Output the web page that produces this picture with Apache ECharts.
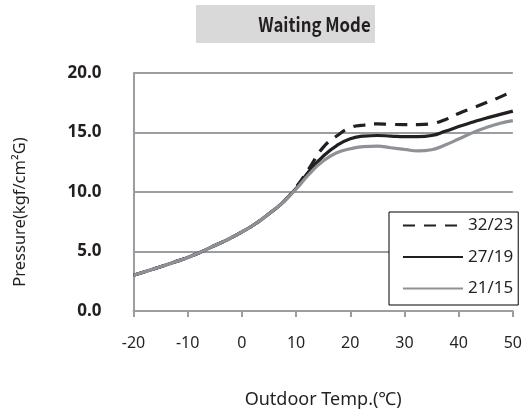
<!DOCTYPE html>
<html>
<head>
<meta charset="utf-8">
<script src="https://cdn.jsdelivr.net/npm/echarts@6/dist/echarts.min.js"></script>
<style>
  html, body { margin: 0; padding: 0; background: #fff; }
  #chart { width: 525px; height: 414px; }
</style>
</head>
<body>
<div id="chart"></div>
<script>
// Outdoor temperature sample points (°C), every 2.5 degrees
const temps = [-20, -17.5, -15, -12.5, -10, -7.5, -5, -2.5, 0, 2.5, 5, 7.5, 10, 12.5, 15,
               17.5, 20, 22.5, 25, 27.5, 30, 32.5, 35, 37.5, 40, 42.5, 45, 47.5, 50];
// Pressure (kgf/cm²G) for each indoor condition
const p3223 = [3.0, 3.36, 3.72, 4.1, 4.5, 4.97, 5.5, 6.03, 6.64, 7.33, 8.17, 9.1, 10.4, 12.05, 13.75,
               14.7, 15.4, 15.62, 15.72, 15.68, 15.67, 15.67, 15.75, 16.08, 16.6, 17.05, 17.5, 17.95, 18.5];
const p2719 = [3.0, 3.36, 3.72, 4.1, 4.5, 4.97, 5.5, 6.03, 6.64, 7.33, 8.17, 9.1, 10.3, 11.8, 13.0,
               13.9, 14.47, 14.7, 14.75, 14.7, 14.65, 14.65, 14.75, 15.1, 15.5, 15.86, 16.2, 16.5, 16.8];
const p2115 = [3.0, 3.36, 3.72, 4.1, 4.5, 4.97, 5.5, 6.03, 6.64, 7.33, 8.17, 9.1, 10.25, 11.55, 12.6,
               13.3, 13.63, 13.82, 13.86, 13.72, 13.58, 13.45, 13.55, 13.95, 14.45, 14.97, 15.4, 15.75, 16.0];
const seriesNames = ['32/23', '27/19', '21/15'];

const pairs = vals => temps.map((t, i) => [t, vals[i]]);
const font = '"Noto Sans", sans-serif';
const axisGrey = '#9a9ea3';
const ink = '#231f20';

const chart = echarts.init(document.getElementById('chart'), null, { renderer: 'canvas' });
chart.setOption({
  animation: false,
  backgroundColor: '#ffffff',
  grid: { left: 133.5, right: 9, top: 73, bottom: 101, containLabel: false },
  graphic: [
    { type: 'rect', shape: { x: 196, y: 5, width: 179, height: 38 }, style: { fill: '#d9d9d9' }, z: 0 },
    { type: 'text', x: 314.5, y: 24, scaleX: 0.84, style: {
        text: 'Waiting Mode', fill: ink, font: 'bold 20px "Noto Sans CJK KR", sans-serif',
        align: 'center', verticalAlign: 'middle' }, z: 1 },
    { type: 'text', x: 20, y: 212, rotation: Math.PI / 2, style: {
        text: 'Pressure(kgf/cm²G)', fill: ink, font: '16.5px "Noto Sans", sans-serif',
        align: 'center', verticalAlign: 'middle' } }
  ],
  legend: {
    orient: 'vertical',
    left: 389, top: 212,
    data: seriesNames,
    itemWidth: 60, itemHeight: 14, itemGap: 14.5,
    padding: [5, 5, 8, 13],
    borderColor: '#000', borderWidth: 1, borderRadius: 0, backgroundColor: '#fff',
    itemStyle: { opacity: 0 },
    textStyle: { fontFamily: font, fontSize: 17, color: ink }
  },
  xAxis: {
    type: 'value', min: -20, max: 50, interval: 10,
    name: 'Outdoor Temp.(℃)', nameLocation: 'middle', nameGap: 80,
    nameTextStyle: { fontFamily: font, fontSize: 18, color: ink },
    axisLine: { show: true, onZero: false, lineStyle: { color: axisGrey, width: 2 } },
    axisTick: { show: true, length: 6, lineStyle: { color: axisGrey, width: 2 } },
    axisLabel: { fontFamily: font, fontSize: 16, color: ink, margin: 24 },
    splitLine: { show: false }
  },
  yAxis: {
    type: 'value', min: 0, max: 20, interval: 5,
    axisLine: { show: true, onZero: false, lineStyle: { color: axisGrey, width: 2 } },
    axisTick: { show: false },
    axisLabel: { fontFamily: font, fontSize: 17, fontWeight: 'bold', color: ink, margin: 32,
      formatter: v => v.toFixed(1) },
    splitLine: { show: true, lineStyle: { color: axisGrey, width: 2 } }
  },
  series: [
    { name: seriesNames[0], type: 'line', data: pairs(p3223), smooth: 0.5,
      showSymbol: false, symbol: 'none',
      lineStyle: { color: ink, width: 3.2, type: [12, 9] }, itemStyle: { color: ink } },
    { name: seriesNames[1], type: 'line', data: pairs(p2719), smooth: 0.5,
      showSymbol: false, symbol: 'none',
      lineStyle: { color: ink, width: 3.2 }, itemStyle: { color: ink } },
    { name: seriesNames[2], type: 'line', data: pairs(p2115), smooth: 0.5,
      showSymbol: false, symbol: 'none',
      lineStyle: { color: '#8e9297', width: 3.2 }, itemStyle: { color: '#8e9297' } }
  ]
});
</script>
</body>
</html>
